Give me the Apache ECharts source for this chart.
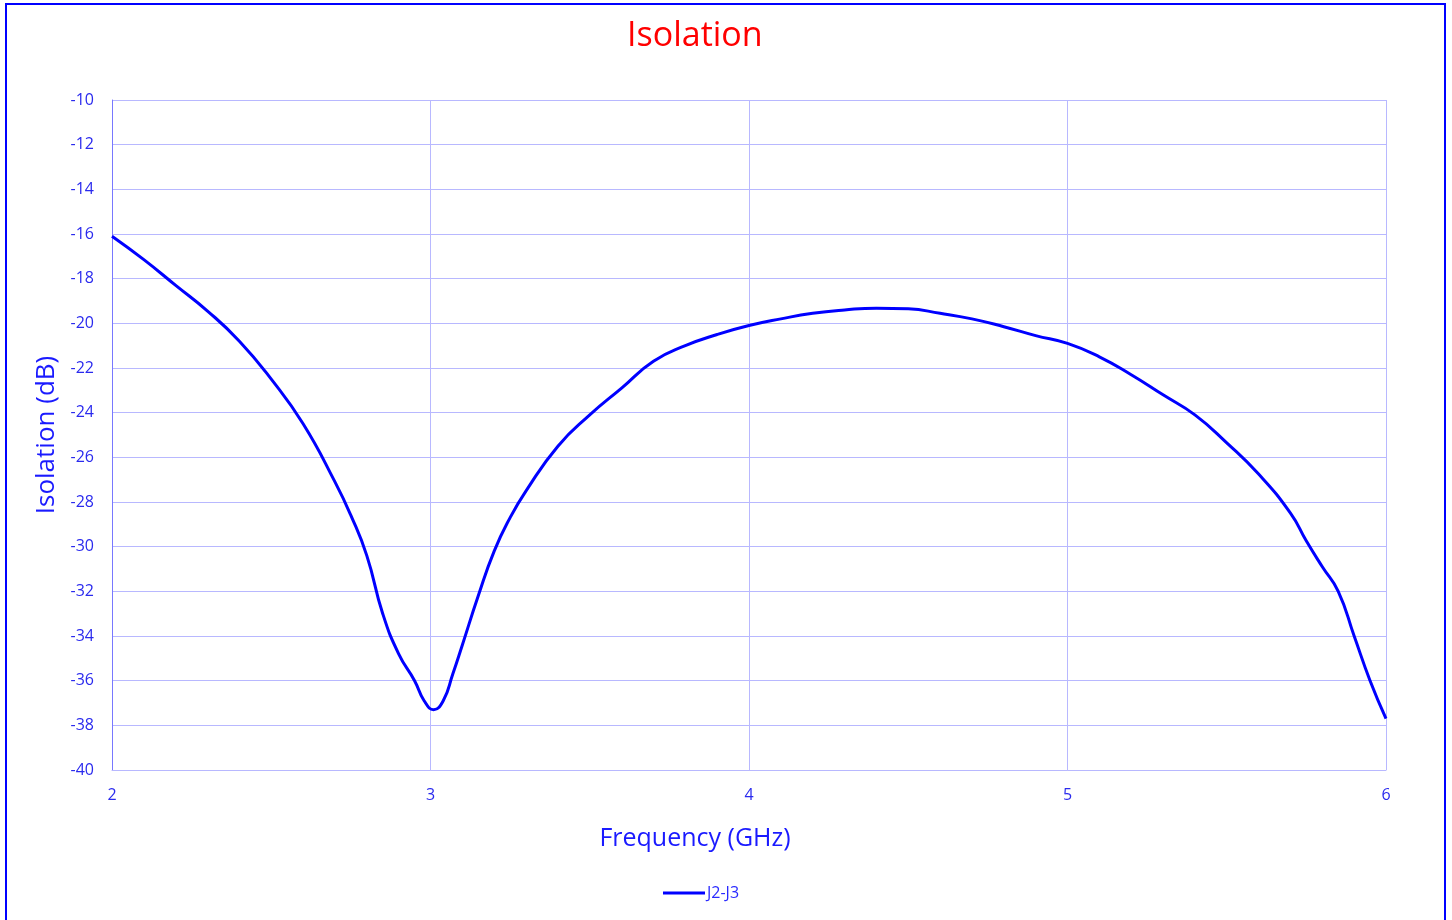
<!DOCTYPE html>
<html>
<head>
<meta charset="utf-8">
<script src="https://cdn.jsdelivr.net/npm/echarts@6/dist/echarts.min.js"></script>
<style>
html,body{margin:0;padding:0;background:#fff;}
#c{width:1452px;height:920px;}
</style>
</head>
<body>
<div id="c"></div>
<script>
const frequency = [2.00, 2.10, 2.20, 2.30, 2.40, 2.50, 2.60, 2.70, 2.75, 2.80, 2.85, 2.90, 2.95, 2.98, 3.01, 3.04, 3.07, 3.10, 3.15, 3.20, 3.25, 3.30, 3.40, 3.50, 3.60, 3.70, 3.80, 3.90, 4.00, 4.10, 4.20, 4.30, 4.40, 4.50, 4.60, 4.70, 4.80, 4.90, 5.00, 5.10, 5.20, 5.30, 5.40, 5.50, 5.60, 5.70, 5.75, 5.80, 5.85, 5.90, 5.95, 6.00];
const isolationJ2J3 = [-16.1, -17.15, -18.3, -19.45, -20.8, -22.5, -24.5, -27.1, -28.6, -30.4, -33.0, -34.8, -36.0, -36.9, -37.3, -36.9, -35.7, -34.4, -32.2, -30.2, -28.7, -27.5, -25.5, -24.1, -22.9, -21.7, -21.0, -20.5, -20.1, -19.8, -19.55, -19.4, -19.32, -19.35, -19.55, -19.8, -20.15, -20.55, -20.9, -21.5, -22.3, -23.2, -24.1, -25.35, -26.75, -28.5, -29.75, -30.9, -32.0, -34.0, -36.0, -37.7];
const seriesName = 'J2-J3';
const xTicks = { min: 2, max: 6, interval: 1 };
const yTicks = { min: -40, max: -10, interval: 2 };

const FONT = '"Open Sans", "Noto Sans", sans-serif';
const chart = echarts.init(document.getElementById('c'), null, { renderer: 'canvas' });
chart.setOption({
  backgroundColor: '#ffffff',
  animation: false,
  title: {
    text: 'Isolation',
    left: 622,
    top: 14,
    textStyle: { color: '#ff0000', fontSize: 34, fontWeight: 'normal', fontFamily: FONT }
  },
  graphic: [{
    type: 'rect',
    shape: { x: 6, y: 4, width: 1439, height: 1000 },
    style: { fill: 'none', stroke: '#0000ff', lineWidth: 2 },
    silent: true
  }],
  legend: {
    bottom: 14,
    left: 658,
    itemWidth: 42,
    itemHeight: 3,
    itemGap: 4,
    icon: 'rect',
    data: [seriesName],
    textStyle: { color: '#2a2aff', fontSize: 16, fontFamily: FONT, padding: [0, 0, 0, -3] }
  },
  grid: { left: 112, top: 100, right: 66, bottom: 150, containLabel: false },
  xAxis: {
    type: 'value',
    min: xTicks.min, max: xTicks.max, interval: xTicks.interval,
    name: 'Frequency (GHz)',
    nameLocation: 'middle',
    nameGap: 56,
    nameTextStyle: { color: '#1a1aff', fontSize: 25, fontFamily: FONT, padding: [0, 108, 0, 0] },
    axisLine: { show: true, lineStyle: { color: '#b8b8ff', width: 1 } },
    axisTick: { show: false },
    axisLabel: { color: '#2a2aee', fontSize: 16, fontFamily: FONT, margin: 17 },
    splitLine: { show: true, lineStyle: { color: '#b8b8ff', width: 1 } }
  },
  yAxis: {
    type: 'value',
    min: yTicks.min, max: yTicks.max, interval: yTicks.interval,
    name: 'Isolation (dB)',
    nameLocation: 'middle',
    nameGap: 50,
    nameTextStyle: { color: '#1a1aff', fontSize: 26, fontFamily: FONT },
    axisLine: { show: true, lineStyle: { color: '#7878ff', width: 1 } },
    axisTick: { show: false },
    axisLabel: { color: '#2a2aee', fontSize: 16, fontFamily: FONT, margin: 18 },
    splitLine: { show: true, lineStyle: { color: '#b8b8ff', width: 1 } }
  },
  series: [{
    name: seriesName,
    type: 'line',
    data: frequency.map((f, i) => [f, isolationJ2J3[i]]),
    smooth: 0.5,
    showSymbol: false,
    symbol: 'none',
    lineStyle: { color: '#0000ff', width: 3 },
    itemStyle: { color: '#0000ff' }
  }]
});
</script>
</body>
</html>
